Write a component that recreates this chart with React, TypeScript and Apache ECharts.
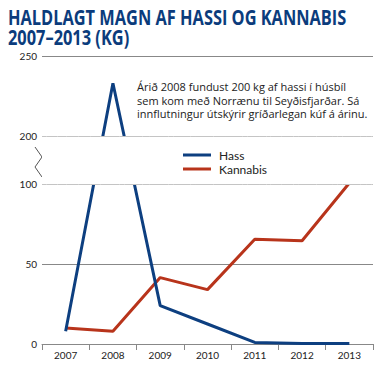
import React, { useEffect, useRef } from "react";
import * as echarts from "echarts";

const years = ["2007", "2008", "2009", "2010", "2011", "2012", "2013"];
const hass = [8, 233, 24, 12.5, 1, 0.3, 0.3];
const kannabis = [10, 8, 41.5, 34, 65.5, 64.5, 102];
const seriesNames = ["Hass", "Kannabis"];
const titleLines = ["HALDLAGT MAGN AF HASSI OG KANNABIS", "2007–2013 (KG)"];
const noteText =
  "Árið 2008 fundust 200 kg af hassi í húsbíl\nsem kom með Norrænu til Seyðisfjarðar. Sá\ninnflutningur útskýrir gríðarlegan kúf á árinu.";

const FONT = "Lato, 'Open Sans', sans-serif";

export default function App() {
  const ref = useRef<HTMLDivElement>(null);
  useEffect(() => {
    document.body.style.margin = "0";
    const chart = echarts.init(ref.current!, null, { renderer: "svg" });
    chart.setOption({
      animation: false,
      backgroundColor: "#fff",
      textStyle: { fontFamily: FONT },
      grid: { left: 42, right: 17, top: 56, bottom: 26, containLabel: false },
      legend: {
        orient: "vertical",
        left: 183,
        top: 149,
        z: 50,
        zlevel: 1,
        padding: 0,
        itemWidth: 28,
        itemHeight: 3,
        itemGap: 2,
        icon: "rect",
        textStyle: {
          fontSize: 12,
          lineHeight: 11,
          color: "#222",
          fontFamily: FONT,
          padding: [0, 0, 0, 3],
        },
        data: seriesNames,
      },
      xAxis: {
        type: "category",
        data: years,
        boundaryGap: true,
        axisLine: { lineStyle: { color: "#888", width: 1 } },
        axisTick: { show: true, length: 6, lineStyle: { color: "#888" } },
        axisLabel: { fontSize: 10, color: "#222", margin: 6, fontFamily: FONT },
      },
      yAxis: {
        type: "value",
        min: 0,
        max: 250,
        interval: 50,
        breaks: [{ start: 100, end: 200, gap: 30 }],
        breakArea: {
          show: true,
          itemStyle: {
            color: "#fff",
            borderColor: "#888",
            borderWidth: 1,
            borderType: "solid",
            opacity: 1,
          },
          zigzagAmplitude: 0,
          expandOnClick: false,
        },
        axisLine: { show: false },
        axisTick: { show: false },
        splitLine: { show: true, lineStyle: { color: "#888", width: 1 } },
        axisLabel: { fontSize: 10, color: "#222", margin: 5, fontFamily: FONT },
      },
      series: [
        {
          name: seriesNames[0],
          type: "line",
          data: hass,
          symbol: "none",
          color: "#0d3f80",
          lineStyle: { width: 3, color: "#0d3f80" },
          z: 3,
        },
        {
          name: seriesNames[1],
          type: "line",
          data: kannabis,
          symbol: "none",
          color: "#b8341b",
          lineStyle: { width: 3, color: "#b8341b" },
          z: 2,
        },
      ],
      graphic: [
        {
          type: "text",
          left: 8,
          top: 7,
          scaleX: 0.78,
          style: {
            text: titleLines.join("\n"),
            fontSize: 21,
            lineHeight: 20,
            fontWeight: "bold",
            fill: "#0b3c7c",
            fontFamily: "'Open Sans', sans-serif",
          },
        },
        {
          type: "text",
          left: 137,
          top: 80,
          style: {
            text: noteText,
            fontSize: 11,
            lineHeight: 13.5,
            fill: "#222",
            fontFamily: "'Open Sans', sans-serif",
          },
        },
        {
          type: "polyline",
          shape: { points: [[35, 147], [42, 157], [35, 167], [42, 177]] },
          style: { stroke: "#555", lineWidth: 1, fill: null },
        },
      ],
    });
    return () => chart.dispose();
  }, []);
  return <div ref={ref} style={{ width: 390, height: 370 }} />;
}
